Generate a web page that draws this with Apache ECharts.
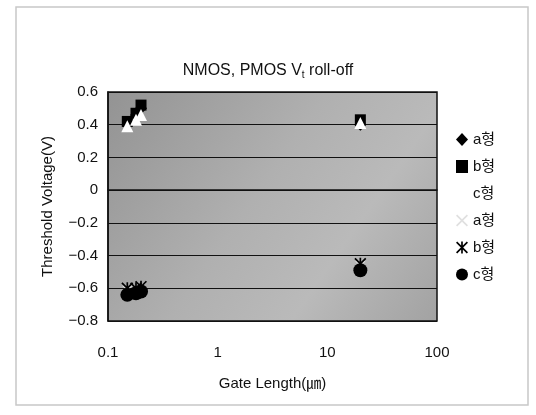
<!DOCTYPE html>
<html>
<head>
<meta charset="utf-8">
<script src="https://cdn.jsdelivr.net/npm/echarts@6/dist/echarts.min.js"></script>
<style>
html,body{margin:0;padding:0;background:#fff;}
#chart{width:536px;height:415px;}
</style>
</head>
<body>
<div id="chart"></div>
<script>
// ---- data ----
const xTicks = [0.1, 1, 10, 100];
const yTicks = [-0.8, -0.6, -0.4, -0.2, 0, 0.2, 0.4, 0.6];
const legendLabels = ['a형', 'b형', 'c형', 'a형', 'b형', 'c형'];
// gate length in um, threshold voltage in V
const nmosA = [[0.15, 0.40], [0.18, 0.46], [0.2, 0.50], [20, 0.40]];
const nmosB = [[0.15, 0.42], [0.18, 0.47], [0.2, 0.52], [20, 0.43]];
const nmosC = [[0.15, 0.39], [0.18, 0.43], [0.2, 0.46], [20, 0.41]];
const pmosA = [[0.15, -0.61], [0.18, -0.60], [0.2, -0.59], [20, -0.46]];
const pmosB = [[0.15, -0.60], [0.18, -0.60], [0.2, -0.59], [20, -0.45]];
const pmosC = [[0.15, -0.64], [0.18, -0.63], [0.2, -0.62], [20, -0.49]];

const FONT = "'Liberation Sans', Arial, 'Noto Sans CJK KR', sans-serif";
const xPath = 'path://M0,1L1,0L5,4L9,0L10,1L6,5L10,9L9,10L5,6L1,10L0,9L4,5Z';
const starPath = 'path://M0,1L1,0L10,9L9,10Z M9,0L10,1L1,10L0,9Z M4.3,0L5.7,0L5.7,10L4.3,10Z';

const chart = echarts.init(document.getElementById('chart'), null, {renderer: 'canvas'});

function fmtY(v) {
  if (Math.abs(v) < 1e-9) return '0';
  return v.toFixed(1).replace('-', '\u2212');
}

const seriesDefs = [
  {name: 'N ' + legendLabels[0], data: nmosA, symbol: 'diamond', size: 12, color: '#000'},
  {name: 'N ' + legendLabels[1], data: nmosB, symbol: 'rect', size: 11, color: '#000'},
  {name: 'N ' + legendLabels[2], data: nmosC, symbol: 'triangle', size: 12, color: '#fff'},
  {name: 'P ' + legendLabels[3], data: pmosA, symbol: xPath, size: 10, color: '#e0e0e0'},
  {name: 'P ' + legendLabels[4], data: pmosB, symbol: starPath, size: 12, color: '#000'},
  {name: 'P ' + legendLabels[5], data: pmosC, symbol: 'circle', size: 14, color: '#000'}
];

const option = {
  backgroundColor: '#fff',
  animation: false,
  title: {
    text: 'NMOS, PMOS V{sub|t} roll-off',
    left: 'center',
    top: 57,
    textStyle: {
      fontFamily: FONT, fontSize: 16, fontWeight: 'normal', color: '#111',
      rich: {sub: {fontFamily: FONT, fontSize: 10, verticalAlign: 'bottom', padding: [8, 0, 0, 0], color: '#111'}}
    }
  },
  legend: {
    orient: 'vertical',
    left: 451,
    top: 127,
    itemGap: 12,
    itemWidth: 12,
    itemHeight: 13,
    textStyle: {fontFamily: FONT, fontSize: 15, color: '#111'},
    formatter: function (name) { return name.replace(/^[NP] /, ''); },
    data: seriesDefs.map(s => ({name: s.name}))
  },
  grid: {
    left: 108, right: 99, top: 92, bottom: 94,
    show: true,
    backgroundColor: {
      type: 'linear', x: 0, y: 0, x2: 1, y2: 1,
      colorStops: [
        {offset: 0, color: '#939393'},
        {offset: 0.45, color: '#b0b0b0'},
        {offset: 0.7, color: '#bababa'},
        {offset: 1, color: '#a2a2a2'}
      ]
    },
    borderColor: '#111',
    borderWidth: 1.5
  },
  xAxis: {
    type: 'log',
    logBase: 10,
    min: xTicks[0],
    max: xTicks[xTicks.length - 1],
    name: 'Gate Length(㎛)',
    nameLocation: 'middle',
    nameGap: 55,
    nameTextStyle: {fontFamily: FONT, fontSize: 15, color: '#111'},
    axisLine: {show: true, lineStyle: {color: '#111', width: 1.5}},
    axisTick: {show: false},
    splitLine: {show: false},
    axisLabel: {
      margin: 24, fontFamily: FONT, fontSize: 15, color: '#111',
      formatter: function (v) { return String(+v.toPrecision(3)); }
    }
  },
  yAxis: {
    type: 'value',
    min: yTicks[0],
    max: yTicks[yTicks.length - 1],
    interval: 0.2,
    name: 'Threshold Voltage(V)',
    nameLocation: 'middle',
    nameRotate: 90,
    nameGap: 53,
    nameTextStyle: {fontFamily: FONT, fontSize: 15, color: '#111'},
    axisLine: {show: true, lineStyle: {color: '#111', width: 1.5}},
    axisTick: {show: false},
    splitLine: {show: true, lineStyle: {color: '#111', width: 1.2}},
    axisLabel: {margin: 10, fontFamily: FONT, fontSize: 15, color: '#111', formatter: fmtY}
  },
  graphic: [
    {type: 'rect', shape: {x: 16, y: 7, width: 512, height: 398},
     style: {fill: 'none', stroke: '#c8c8c8', lineWidth: 1.5}, silent: true}
  ],
  series: seriesDefs.map(s => ({
    type: 'scatter',
    name: s.name,
    data: s.data,
    symbol: s.symbol,
    symbolSize: s.size,
    itemStyle: {color: s.color, borderWidth: 0, opacity: 1}
  }))
};
chart.setOption(option);
</script>
</body>
</html>
